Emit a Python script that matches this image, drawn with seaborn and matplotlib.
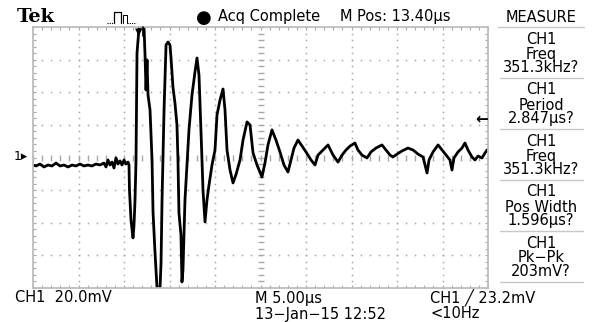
import numpy as np
import matplotlib
matplotlib.use("Agg")
import matplotlib.pyplot as plt
import seaborn as sns
from matplotlib.lines import Line2D

# CH1 trace (time from left edge in us, voltage in mV)
t_us = [0.00, 0.33, 0.77, 1.21, 1.65, 2.09, 2.53, 2.97, 3.41, 3.85, 4.29, 4.73,
        5.16, 5.60, 6.04, 6.48, 6.92, 7.36, 7.80, 8.02, 8.24, 8.46, 8.68, 8.90,
        9.12, 9.34, 9.56, 9.78, 10.00, 10.22, 10.44, 10.55,
        10.60, 10.77, 10.99, 11.10, 11.21, 11.32, 11.43, 11.65, 11.87, 12.20,
        12.31, 12.42, 12.53, 12.64, 12.86, 13.08, 13.19, 13.41, 13.63, 13.96,
        14.07, 14.18, 14.29, 14.40, 14.62, 14.84, 15.05, 15.16, 15.38, 15.60,
        15.82, 15.93, 16.04, 16.26, 16.37, 16.48, 16.70, 16.92, 17.14, 17.47,
        17.80, 18.02, 18.24, 18.46, 18.57, 18.68, 18.90, 19.12, 19.34, 19.67,
        20.00, 20.22, 20.55, 20.88, 21.10, 21.32, 21.65, 21.98, 22.31, 22.75,
        23.08, 23.52, 23.85, 24.18, 24.62, 25.16, 25.49, 25.82, 26.26, 26.70,
        27.14, 27.58, 28.02, 28.35, 28.68, 29.12, 29.56, 30.00, 30.55, 30.99,
        31.32, 31.87, 32.42, 32.97, 33.52, 33.96, 34.40, 34.84, 35.38, 35.71,
        36.15, 36.70, 37.14, 37.69, 38.35, 38.79, 39.23, 39.56, 40.00, 40.55,
        41.21, 41.76, 42.31, 42.86, 43.08, 43.30, 43.52, 43.96, 44.51, 44.95,
        45.38, 45.82, 46.04, 46.26, 46.70, 47.14, 47.47, 47.80, 48.24, 48.57,
        48.90, 49.34, 49.67, 49.89]
v_mv = [-4.6, -5.2, -4.0, -5.8, -4.6, -5.2, -3.4, -5.2, -4.6, -5.8, -4.6, -5.2,
        -4.0, -5.2, -4.6, -5.2, -4.0, -4.6, -3.4, -5.8, -1.5, -4.6, -2.8, -6.4,
        -0.3, -4.0, -2.1, -4.6, -1.5, -4.0, -2.8, -4.6,
        -19.9, -38.3, -49.3, -41.4, -26.1, -1.5, 64.1, 79.4, 80.0, 80.0,
        62.8, 41.4, 59.8, 38.3, 29.1, -1.5, -33.4, -58.5, -80.0, -80.0,
        -64.7, -26.1, 0.3, 29.1, 69.0, 70.8, 69.0, 61.6, 43.2, 33.4,
        19.9, -1.5, -34.0, -47.5, -76.3, -69.0, -26.1, -4.6, 16.9, 38.3,
        52.4, 61.0, 50.6, 16.9, -1.5, -19.9, -39.5, -26.1, -16.9, -4.6,
        4.6, 26.1, 35.2, 42.0, 29.1, 4.6, -7.7, -15.6, -10.4, -1.5,
        10.7, 21.8, 19.9, 2.8, -4.6, -12.0, -3.4, 7.7, 16.9, 10.7,
        3.4, -4.6, -8.9, -1.5, 5.8, 10.7, 7.0, 3.4, -1.5, -4.6,
        1.5, 4.6, 7.7, 1.5, -2.8, 1.5, 4.6, 7.0, 8.9, 4.6,
        1.5, -0.3, 3.4, 5.8, 7.7, 4.6, 1.5, 0.3, 2.1, 4.0,
        5.8, 4.6, 2.1, 0.3, -4.6, -9.5, -1.5, 3.4, 7.7, 4.6,
        1.5, -1.5, -7.7, -0.3, 3.4, 5.8, 8.9, 4.6, 0.3, -1.5,
        0.9, -0.3, 2.8, 4.6]

# measurement panel
meas_source = ["CH1", "CH1", "CH1", "CH1", "CH1"]
meas_name = ["Freq", "Period", "Freq", "Pos Width", "Pk\u2212Pk"]
meas_value = ["351.3kHz?", "2.847\u00b5s?", "351.3kHz?", "1.596\u00b5s?", "203mV?"]

# scope settings
us_per_div = 5.0
mv_per_div = 20.0
n_xdiv, n_ydiv = 10, 8

sns.set_theme(style="white")
plt.rcParams['font.family'] = ['DejaVu Sans']
plt.rcParams['font.size'] = 10.5
plt.rcParams['text.color'] = 'black'

W, H = 594, 322
fig = plt.figure(figsize=(W / 100, H / 100), dpi=100)
fig.patch.set_facecolor("white")
ax = fig.add_axes([33 / W, 34 / H, 455 / W, 261 / H])


def ftext(px, py, s, **kw):
    kw.setdefault("va", "center")
    fig.text(px / W, 1 - py / H, s, **kw)


grid_col = "#a8a8a8"
xmax = us_per_div * n_xdiv
ymax = mv_per_div * n_ydiv / 2

# graticule: dotted division lines
xs_major = np.arange(us_per_div, xmax, us_per_div)
ys_major = np.arange(-ymax + mv_per_div, ymax, mv_per_div)
x_fine = np.arange(0, xmax + 0.01, us_per_div / 5)
y_fine = np.arange(-ymax, ymax + 0.01, mv_per_div / 5)
for xv in xs_major:
    if abs(xv - xmax / 2) < 1e-6:
        continue
    ax.plot(np.full_like(y_fine, xv), y_fine, ls="none", marker="s",
            ms=1.1, mew=0, color=grid_col)
for yv in ys_major:
    if abs(yv) < 1e-6:
        continue
    ax.plot(x_fine, np.full_like(x_fine, yv), ls="none", marker="s",
            ms=1.1, mew=0, color=grid_col)
# center cross with minor ticks
ax.plot(np.full_like(y_fine, xmax / 2), y_fine, ls="none", marker="_",
        ms=5, mew=1.0, color=grid_col)
ax.plot(x_fine, np.zeros_like(x_fine), ls="none", marker="|",
        ms=5, mew=1.0, color=grid_col)

# the trace
sns.lineplot(x=t_us, y=v_mv, ax=ax, color="black", linewidth=2.0,
             estimator=None, sort=False)

ax.set_xlim(0, xmax)
ax.set_ylim(-ymax, ymax)
ax.set_xticks(np.arange(0, xmax + 0.01, us_per_div))
ax.set_xticks(x_fine, minor=True)
ax.set_yticks(np.arange(-ymax, ymax + 0.01, mv_per_div))
ax.set_yticks(y_fine, minor=True)
ax.tick_params(which="both", direction="in", top=True, right=True,
               bottom=True, left=True, length=2.5, width=0.8, color=grid_col,
               labelbottom=False, labelleft=False)
ax.set_xlabel("")
ax.set_ylabel("")
for sp in ax.spines.values():
    sp.set_color("#bdbdbd")
    sp.set_linewidth(1.3)

# markers on the screen
ftext(14, 157, "1\u25b8", fontsize=9)
ftext(482, 119, "\u2190", fontsize=11, fontweight="bold", ha="center")
ftext(139, 32, "\u25bc", fontsize=7, ha="center")
fig.add_artist(Line2D([143 / W, 143 / W], [1 - 27 / H, 1 - 36 / H],
                      color="black", lw=1.2))

# header
ftext(17, 17, "Tek", fontsize=14, fontweight="bold", family="DejaVu Serif")
fig.add_artist(Line2D([107 / W, 114 / W], [1 - 23 / H, 1 - 23 / H],
                      color="black", lw=0.8, ls=(0, (1, 1))))
fig.add_artist(Line2D([114 / W, 114 / W, 121 / W, 121 / W],
                      [1 - 23 / H, 1 - 12 / H, 1 - 12 / H, 1 - 23 / H],
                      color="black", lw=0.9))
fig.add_artist(Line2D([123 / W, 123 / W, 127 / W, 127 / W],
                      [1 - 23 / H, 1 - 15 / H, 1 - 15 / H, 1 - 23 / H],
                      color="black", lw=0.7))
fig.add_artist(Line2D([127 / W, 136 / W], [1 - 23 / H, 1 - 23 / H],
                      color="black", lw=0.8, ls=(0, (1, 1))))
ftext(204, 18, "\u25cf", fontsize=13, ha="center")
ftext(218, 17, "Acq Complete")
ftext(340, 17, "M Pos: 13.40\u00b5s")
ftext(541, 17, "MEASURE", ha="center")
fig.add_artist(Line2D([498 / W, 584 / W], [1 - 27 / H, 1 - 27 / H],
                      color="#c8c8c8", lw=1.0))

# measurement panel
for i, (src, name, val) in enumerate(zip(meas_source, meas_name, meas_value)):
    top = 27 + 51 * i
    ftext(541, top + 12, src, ha="center")
    ftext(541, top + 27, name, ha="center")
    ftext(541, top + 41, val, ha="center")
    fig.add_artist(Line2D([500 / W, 583 / W], [1 - (top + 51) / H] * 2,
                          color="#c8c8c8", lw=1.0))

# footer
ftext(15, 298, "CH1  20.0mV")
ftext(255, 298, "M 5.00\u00b5s")
ftext(255, 314, "13\u2212Jan\u221215 12:52")
ftext(430, 298, "CH1 \u2571 23.2mV")
ftext(430, 314, "<10Hz")

fig.savefig("out.png", dpi=100, facecolor="white")
